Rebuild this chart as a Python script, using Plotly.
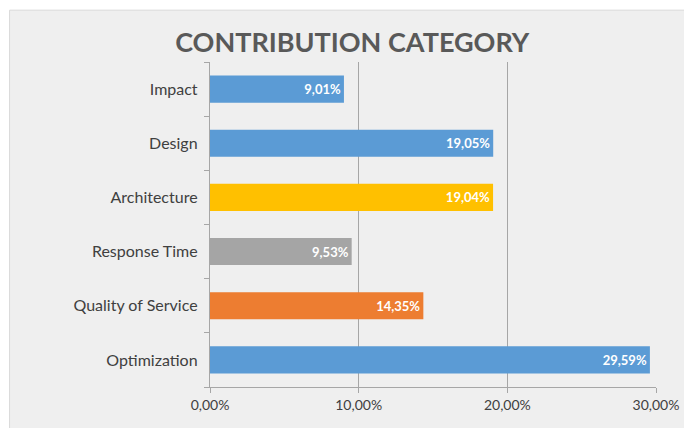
import plotly.graph_objects as go

categories = ["Optimization", "Quality of Service", "Response Time", "Architecture", "Design", "Impact"]
values = [29.59, 14.35, 9.53, 19.04, 19.05, 9.01]
colors = ["#5B9BD5", "#ED7D31", "#A5A5A5", "#FFC000", "#5B9BD5", "#5B9BD5"]
tick_vals = [0, 10, 20, 30]

labels = [f"{v:.2f}%".replace(".", ",") for v in values]
tick_text = [f"{v:.2f}%".replace(".", ",") for v in tick_vals]

fig = go.Figure()
fig.add_trace(go.Bar(
    y=categories, x=values, orientation="h",
    marker=dict(color=colors, line=dict(width=0)),
    text=labels, textposition="inside", insidetextanchor="end",
    textfont=dict(family="Lato", size=13, color="white", weight="bold"),
    cliponaxis=False,
))

fig.update_layout(
    width=684, height=428,
    margin=dict(l=210, r=28, t=62, b=41, autoexpand=False),
    paper_bgcolor="white", plot_bgcolor="rgba(0,0,0,0)",
    bargap=0.5,
    showlegend=False,
    title=dict(text="<b>CONTRIBUTION CATEGORY</b>", x=0.515, xanchor="center", y=0.9, yanchor="middle",
               font=dict(family="Lato", size=27, color="#595959")),
    shapes=[dict(type="rect", xref="paper", yref="paper", x0=-0.4494, x1=1.3, y0=-0.3, y1=1.1595,
                 fillcolor="#efefef", line=dict(color="#d9d9d9", width=1), layer="below")],
)
fig.update_xaxes(range=[0, 30], tickvals=tick_vals, ticktext=tick_text,
                 showgrid=True, gridcolor="#a6a6a6", gridwidth=1,
                 showline=True, linecolor="#a6a6a6", ticks="outside", ticklen=5, tickcolor="#a6a6a6",
                 tickfont=dict(family="Lato", size=14, color="#404040"), zeroline=False)
fig.update_yaxes(showline=True, linecolor="#a6a6a6", ticks="outside", ticklen=5, tickcolor="#a6a6a6",
                 tickson="boundaries", showgrid=False,
                 tickfont=dict(family="Lato", size=16, color="#404040"), ticksuffix="  ")

fig.write_html("out.html", config={"displayModeBar": False},
               post_script="document.body.style.margin='0';")
